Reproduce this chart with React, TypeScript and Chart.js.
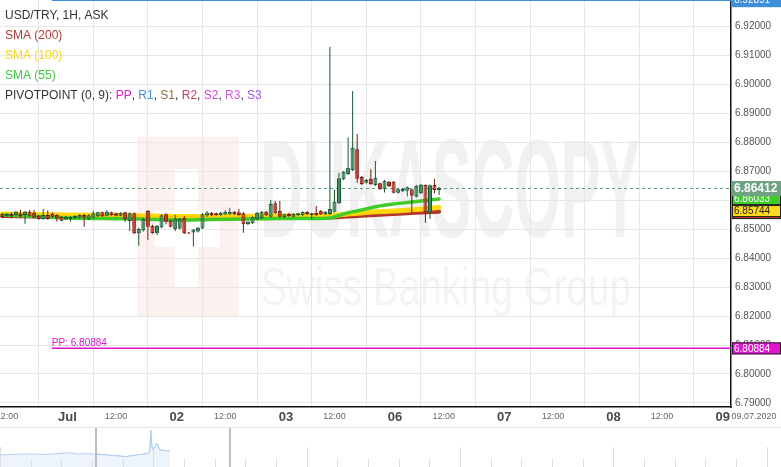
import React, { useEffect, useRef } from 'react';
import { Chart, registerables } from 'chart.js';

Chart.register(...registerables);

const FONT = 'Arial, "Liberation Sans", sans-serif';

const TITLE = 'USD/TRY, 1H, ASK';
// hours since 01 Jul 00:00, weekend collapsed
const FIRST_HOUR = -14;

const OPEN = [6.85507, 6.85438, 6.85528, 6.85483, 6.85541, 6.85483, 6.85597, 6.85562, 6.85459, 6.85345, 6.85483, 6.85528, 6.85483, 6.85424,
  6.85334, 6.85334, 6.85369, 6.8539, 6.85483, 6.85334, 6.8539, 6.85438, 6.85576, 6.85459, 6.85576, 6.85541, 6.85459, 6.85576, 6.85276,
  6.85541, 6.84852, 6.84948, 6.85621, 6.85103, 6.84852, 6.85052, 6.85507, 6.85293, 6.85, 6.85017, 6.85379, 6.84879, 6.84879, 6.84914,
  6.85017, 6.85466, 6.85552, 6.85541, 6.85483, 6.85507, 6.85507, 6.85597, 6.85576, 6.85541, 6.85162, 6.85197, 6.85334, 6.85369, 6.85597,
  6.85424, 6.85886, 6.85621, 6.85403, 6.85528, 6.85424, 6.85472, 6.85472, 6.85586, 6.85472, 6.85562, 6.85631, 6.85507, 6.85517, 6.85597,
  6.85886, 6.86714, 6.86897, 6.87034, 6.87748, 6.86793, 6.86597, 6.86724, 6.86517, 6.86576, 6.86369, 6.86631, 6.86631, 6.86252, 6.863,
  6.86321, 6.86369, 6.86114, 6.86231, 6.86517, 6.85562, 6.86517, 6.86345];
const HIGH = [6.85541, 6.85541, 6.85576, 6.85621, 6.85655, 6.85631, 6.85655, 6.85655, 6.85483, 6.8569, 6.85645, 6.85576, 6.85507, 6.85448,
  6.85448, 6.85438, 6.85472, 6.85507, 6.85517, 6.85507, 6.85621, 6.85597, 6.85597, 6.85655, 6.85597, 6.85562, 6.85576, 6.85597, 6.85576,
  6.85569, 6.85034, 6.85379, 6.85655, 6.85148, 6.85138, 6.85507, 6.85541, 6.85328, 6.85483, 6.85379, 6.85448, 6.84897, 6.85, 6.85069,
  6.85552, 6.85621, 6.85586, 6.85569, 6.85586, 6.85645, 6.85734, 6.85621, 6.85679, 6.85586, 6.85276, 6.85431, 6.85586, 6.85621, 6.85621,
  6.86, 6.85966, 6.85966, 6.85528, 6.85552, 6.85541, 6.85562, 6.8561, 6.8561, 6.85562, 6.85793, 6.85655, 6.85621, 6.91286, 6.86345,
  6.86941, 6.87, 6.88162, 6.89759, 6.88276, 6.86828, 6.86724, 6.87059, 6.87345, 6.86603, 6.8669, 6.86655, 6.86655, 6.86397, 6.86414,
  6.86466, 6.86397, 6.86517, 6.86552, 6.86534, 6.86534, 6.86724, 6.86459];
const LOW = [6.85369, 6.85414, 6.85369, 6.85459, 6.8539, 6.85183, 6.85424, 6.85369, 6.85321, 6.85321, 6.85321, 6.8539, 6.85252, 6.85266,
  6.8531, 6.85252, 6.85345, 6.85369, 6.85079, 6.8531, 6.85369, 6.85414, 6.85414, 6.85438, 6.85459, 6.85438, 6.85438, 6.85252, 6.84931,
  6.84817, 6.84424, 6.84914, 6.84621, 6.84838, 6.84793, 6.85024, 6.85162, 6.85052, 6.84931, 6.84983, 6.84828, 6.84828, 6.84397, 6.84879,
  6.85, 6.85414, 6.85448, 6.85459, 6.85459, 6.85483, 6.85483, 6.85483, 6.85459, 6.84872, 6.85138, 6.85172, 6.8531, 6.85345, 6.85448,
  6.85397, 6.85517, 6.85397, 6.85379, 6.85424, 6.85403, 6.85448, 6.85448, 6.85483, 6.85334, 6.85459, 6.85483, 6.85483, 6.85483, 6.85569,
  6.85862, 6.8669, 6.86862, 6.87, 6.86597, 6.86517, 6.86569, 6.86517, 6.86483, 6.86345, 6.86259, 6.86448, 6.86224, 6.86224, 6.86276,
  6.86121, 6.85562, 6.86086, 6.86207, 6.85217, 6.85355, 6.86231, 6.86172];
const CLOSE = [6.85414, 6.85517, 6.85448, 6.85597, 6.85448, 6.85597, 6.85459, 6.8539, 6.85345, 6.85483, 6.85345, 6.85424, 6.85369, 6.85286,
  6.85424, 6.85414, 6.85448, 6.85483, 6.8539, 6.85472, 6.85541, 6.85576, 6.85438, 6.85597, 6.85483, 6.85459, 6.85552, 6.85328, 6.85541,
  6.84852, 6.85, 6.85334, 6.85079, 6.84862, 6.85114, 6.85472, 6.85252, 6.85079, 6.85362, 6.85345, 6.84852, 6.84845, 6.84983, 6.85041,
  6.85507, 6.85569, 6.85466, 6.85483, 6.85562, 6.85597, 6.85597, 6.85507, 6.85483, 6.85162, 6.85252, 6.85403, 6.85562, 6.85597, 6.85472,
  6.85862, 6.85541, 6.85424, 6.85507, 6.85448, 6.85517, 6.85541, 6.85586, 6.85507, 6.85541, 6.85483, 6.85507, 6.85597, 6.8569, 6.85941,
  6.86748, 6.86976, 6.87114, 6.87803, 6.86734, 6.86552, 6.8669, 6.86552, 6.86769, 6.86369, 6.86666, 6.86483, 6.86252, 6.86369, 6.86379,
  6.86438, 6.86148, 6.86493, 6.86528, 6.85576, 6.86507, 6.86345, 6.86412];

const SMA200_H = [-14, 0, 12, 24, 36, 48, 58, 64, 72, 82];
const SMA200_V = [6.85448, 6.85414, 6.85397, 6.85379, 6.85379, 6.85379, 6.85397, 6.85448, 6.85517, 6.85597];
const SMA100_H = [-14, -6, 0, 12, 24, 36, 48, 58, 62, 66, 72, 78, 82];
const SMA100_V = [6.85517, 6.855, 6.85483, 6.85466, 6.85431, 6.85431, 6.85448, 6.85466, 6.85517, 6.85569, 6.85621, 6.85679, 6.85744];
const SMA55_H = [-14, -6, 0, 8, 16, 24, 32, 40, 48, 56, 58, 60, 62, 65, 68, 72, 76, 79, 82];
const SMA55_V = [6.85483, 6.85431, 6.85379, 6.85362, 6.85345, 6.8531, 6.85328, 6.85345, 6.85362, 6.85362, 6.85379, 6.85466, 6.85562,
  6.85655, 6.85769, 6.85862, 6.85931, 6.85983, 6.86033];

const X_MIN = -14.5;
const X_MAX = 146.15;
const Y_MIN = 6.78862;
const Y_MAX = 6.92897;
const Y_STEP = 0.01;

const DAY_TICKS = [0, 24, 48, 72, 96, 120, 144];
const DAY_LABELS = ['Jul', '02', '03', '06', '07', '08', '09'];
const HALF_TICKS = [-12, 12, 36, 60, 84, 108, 132];
const HALF_LABEL = '12:00';
const DATE_LABEL = '09.07.2020';

const PIVOT_NAMES = ['PP', 'R1'];
const PIVOT_VALUES = [6.80884, 6.92891];
const PIVOT_COLORS = ['#e314cf', '#3d8fda'];
const PIVOT_START = -3.1;
const LAST_PRICE = 6.86412;

const LEGEND_SMA = [
  ['SMA (200)', '#b23c36'],
  ['SMA (100)', '#f9d51a'],
  ['SMA (55)', '#3ec93e'],
];
const PIVOT_TITLE = 'PIVOTPOINT (0, 9): ';
const PIVOT_LEGEND = [
  ['PP', '#e31ccb'],
  ['R1', '#3d8fda'],
  ['S1', '#8c6c3c'],
  ['R2', '#c63d5e'],
  ['S2', '#d33fd3'],
  ['R3', '#d45ae0'],
  ['S3', '#a750ee'],
];

// navigator (overview) series
const NAV_HOURS = [-139, -120, -100, -80, -60, -50, -40, -25, -14.5, 0, 10, 25, 35, 45, 52, 55.5, 56.5, 58, 59.9, 64.3, 68.6, 75, 81.6];
const NAV_VALUES = [6.85, 6.8517, 6.8525, 6.8517, 6.8542, 6.8558, 6.8525, 6.8533, 6.8525, 6.85, 6.8483, 6.8458, 6.8492, 6.8517, 6.8542,
  6.858, 6.9125, 6.87, 6.8625, 6.879, 6.8625, 6.861, 6.86];
const NAV_X_MIN = -139.2;
const NAV_X_MAX = 875.1;
const NAV_Y_MIN = 6.82;
const NAV_Y_MAX = 6.92;
const NAV_WINDOW = [-14.5, 159.5];
const NAV_TICK_ORIGIN = 59.9;
const NAV_TICK_STEP = 39.83;

const GREEN_FILL = '#3f8f63';
const GREEN_LINE = '#1c5634';
const RED_FILL = '#c8382b';
const RED_LINE = '#761b12';

const mainDecor = {
  id: 'mainDecor',
  beforeDraw(chart: any) {
    const { ctx } = chart;
    ctx.save();
    ctx.fillStyle = '#ffffff';
    ctx.fillRect(0, 0, chart.width, chart.height);
    // logo watermark
    ctx.fillStyle = 'rgba(232,80,70,0.08)';
    ctx.fillRect(137, 137, 102, 180);
    ctx.fillStyle = '#ffffff';
    ctx.fillRect(175, 169, 23, 118);
    ctx.fillRect(155, 210, 65, 37);
    // text watermark
    ctx.fillStyle = '#f1f1f1';
    ctx.font = `bold 140px ${FONT}`;
    ctx.textBaseline = 'alphabetic';
    ctx.textAlign = 'left';
    let w = ctx.measureText('DUKASCOPY').width;
    ctx.save();
    ctx.translate(260, 237);
    ctx.scale(380 / w, 1);
    ctx.fillText('DUKASCOPY', 0, 0);
    ctx.restore();
    ctx.fillStyle = '#f4f4f4';
    ctx.font = `53px ${FONT}`;
    w = ctx.measureText('Swiss Banking Group').width;
    ctx.save();
    ctx.translate(261, 305);
    ctx.scale(370 / w, 1);
    ctx.fillText('Swiss Banking Group', 0, 0);
    ctx.restore();
    ctx.restore();
  },
  beforeDatasetsDraw(chart: any) {
    const { ctx, chartArea: a, scales } = chart;
    const y = Math.round(scales.y.getPixelForValue(LAST_PRICE)) + 0.5;
    ctx.save();
    ctx.strokeStyle = '#5f9a7d';
    ctx.lineWidth = 1;
    ctx.setLineDash([3, 3]);
    ctx.beginPath();
    ctx.moveTo(a.left, y);
    ctx.lineTo(a.right, y);
    ctx.stroke();
    ctx.restore();
  },
  afterDraw(chart: any) {
    const { ctx, chartArea: a, scales } = chart;
    const ys = scales.y;
    const xs = scales.x;
    ctx.save();
    // pivot label
    ctx.font = `10px ${FONT}`;
    ctx.textBaseline = 'alphabetic';
    ctx.textAlign = 'left';
    ctx.fillStyle = PIVOT_COLORS[0];
    ctx.fillText(`${PIVOT_NAMES[0]}: ${PIVOT_VALUES[0].toFixed(5)}`, xs.getPixelForValue(PIVOT_START), ys.getPixelForValue(PIVOT_VALUES[0]) - 2);

    // x-axis labels
    const ly0 = a.bottom + 10;
    ctx.textAlign = 'center';
    ctx.textBaseline = 'middle';
    ctx.fillStyle = '#666';
    ctx.font = `9px ${FONT}`;
    HALF_TICKS.forEach((h) => ctx.fillText(HALF_LABEL, xs.getPixelForValue(h) - 4.5, ly0));
    ctx.fillStyle = '#4a4a4a';
    ctx.font = `bold 13px ${FONT}`;
    DAY_TICKS.forEach((h, i) => ctx.fillText(DAY_LABELS[i], xs.getPixelForValue(h) + 1.5, ly0 + 0.5));
    ctx.fillStyle = '#666';
    ctx.font = `9px ${FONT}`;
    ctx.fillText(DATE_LABEL, 754, ly0);

    // right-hand value labels
    const box = (cy: number, h: number, bg: string, fg: string, text: string, bold: boolean, border?: string) => {
      const top = cy - h / 2;
      ctx.fillStyle = bg;
      ctx.fillRect(a.right + 1, top, chart.width - a.right - 1, h);
      if (border) {
        ctx.strokeStyle = border;
        ctx.lineWidth = 1;
        ctx.strokeRect(a.right + 1.5, top + 0.5, chart.width - a.right - 2, h - 1);
      }
      ctx.fillStyle = fg;
      ctx.font = `${bold ? 'bold 12px' : '10px'} ${FONT}`;
      ctx.textBaseline = 'middle';
      ctx.textAlign = 'left';
      ctx.fillText(text, a.right + 3, cy + 0.5);
    };
    const pPrice = ys.getPixelForValue(LAST_PRICE);
    box(pPrice + 25, 12, '#b02a20', '#ffffff', SMA200_V[SMA200_V.length - 1].toFixed(5), false, '#222');
    box(ys.getPixelForValue(SMA55_V[SMA55_V.length - 1]), 12, '#3fcb2c', '#ffffff', SMA55_V[SMA55_V.length - 1].toFixed(5), false, '#222');
    box(pPrice + 23, 12, '#ffd91a', '#222', SMA100_V[SMA100_V.length - 1].toFixed(5), false, '#222');
    box(pPrice + 0.5, 15, '#6fa285', '#ffffff', LAST_PRICE.toFixed(5), true);
    box(ys.getPixelForValue(PIVOT_VALUES[0]), 12, '#e314cf', '#ffffff', PIVOT_VALUES[0].toFixed(5), false, '#222');
    box(ys.getPixelForValue(PIVOT_VALUES[1]), 14, '#3d8fda', '#ffffff', PIVOT_VALUES[1].toFixed(5), false);

    // legend
    ctx.font = `12px ${FONT}`;
    ctx.textAlign = 'left';
    ctx.textBaseline = 'middle';
    ctx.fillStyle = '#333';
    ctx.fillText(TITLE, 5, 16);
    LEGEND_SMA.forEach(([t, c], i) => {
      ctx.fillStyle = c;
      ctx.fillText(t, 5, 36 + 20 * i);
    });
    let x = 5;
    const ly = 96;
    ctx.fillStyle = '#333';
    ctx.fillText(PIVOT_TITLE, x, ly);
    x += ctx.measureText(PIVOT_TITLE).width;
    PIVOT_LEGEND.forEach(([n, c], i) => {
      ctx.fillStyle = c;
      ctx.fillText(n, x, ly);
      x += ctx.measureText(n).width;
      if (i < PIVOT_LEGEND.length - 1) {
        ctx.fillStyle = '#333';
        ctx.fillText(', ', x, ly);
        x += ctx.measureText(', ').width;
      }
    });
    ctx.restore();
  },
};

const navDecor = {
  id: 'navDecor',
  beforeDraw(chart: any) {
    const { ctx } = chart;
    ctx.save();
    ctx.fillStyle = '#ffffff';
    ctx.fillRect(0, 0, chart.width, chart.height);
    ctx.restore();
  },
  afterDraw(chart: any) {
    const { ctx, scales } = chart;
    const xs = scales.x;
    const H = chart.height;
    ctx.save();
    ctx.strokeStyle = '#e2e2e2';
    ctx.lineWidth = 1;
    ctx.beginPath();
    ctx.moveTo(0, 0.5);
    ctx.lineTo(chart.width, 0.5);
    ctx.stroke();
    for (let k = -5; k <= 25; k++) {
      const px = Math.round(xs.getPixelForValue(NAV_TICK_ORIGIN + k * NAV_TICK_STEP)) + 0.5;
      if (px < 0 || px > chart.width) continue;
      const tall = k % 5 === 0;
      ctx.strokeStyle = '#dedede';
      ctx.beginPath();
      ctx.moveTo(px, tall ? H - 20 : H - 8);
      ctx.lineTo(px, H);
      ctx.stroke();
    }
    ctx.strokeStyle = '#a8a8a8';
    ctx.lineWidth = 1.5;
    NAV_WINDOW.forEach((h) => {
      const px = Math.round(xs.getPixelForValue(h));
      ctx.beginPath();
      ctx.moveTo(px, 1);
      ctx.lineTo(px, H);
      ctx.stroke();
    });
    ctx.restore();
  },
};

export default function App() {
  const mainRef = useRef<HTMLCanvasElement>(null);
  const navRef = useRef<HTMLCanvasElement>(null);

  useEffect(() => {
    document.body.style.margin = '0';
    const hours = OPEN.map((_, i) => FIRST_HOUR + i);
    const up = OPEN.map((o, i) => CLOSE[i] >= o);
    const bodies = hours.map((h, i) => ({ x: h, y: [OPEN[i], CLOSE[i]] }));
    const wicks = hours.map((h, i) => ({ x: h, y: [LOW[i], HIGH[i]] }));
    const line = (hs: number[], vs: number[]) => hs.map((h, i) => ({ x: h, y: vs[i] }));
    const pivotLines = PIVOT_VALUES.map((v, i) => ({
      type: 'line',
      data: [{ x: PIVOT_START, y: v }, { x: X_MAX + 1, y: v }],
      borderColor: PIVOT_COLORS[i],
      borderWidth: 1.5,
      pointRadius: 0,
      order: 20,
    }));
    const tickVals = [...HALF_TICKS, ...DAY_TICKS].sort((a, b) => a - b);

    const main = new Chart(mainRef.current as HTMLCanvasElement, {
      type: 'bar',
      data: {
        datasets: [
          ...pivotLines,
          {
            type: 'line', data: line(SMA200_H, SMA200_V), borderColor: '#b3352b', borderWidth: 4,
            pointRadius: 0, tension: 0.3, order: 13, borderCapStyle: 'round', borderJoinStyle: 'round',
          },
          {
            type: 'line', data: line(SMA100_H, SMA100_V), borderColor: 'rgba(255,214,0,0.95)', borderWidth: 5,
            pointRadius: 0, tension: 0.3, order: 12, borderCapStyle: 'round', borderJoinStyle: 'round',
          },
          {
            type: 'line', data: line(SMA55_H, SMA55_V), borderColor: '#3fcc2a', borderWidth: 3.5,
            pointRadius: 0, tension: 0.3, order: 11, borderCapStyle: 'round', borderJoinStyle: 'round',
          },
          {
            type: 'bar', data: wicks, backgroundColor: up.map((u) => (u ? GREEN_LINE : RED_LINE)),
            barThickness: 1, grouped: false, order: 2, inflateAmount: 0, borderWidth: 0,
          },
          {
            type: 'bar', data: bodies, backgroundColor: up.map((u) => (u ? GREEN_FILL : RED_FILL)),
            borderColor: up.map((u) => (u ? GREEN_LINE : RED_LINE)), borderWidth: 1, borderSkipped: false,
            barThickness: 4, grouped: false, order: 1, inflateAmount: 0, minBarLength: 1,
          },
        ] as any,
      },
      options: {
        responsive: false,
        animation: false,
        events: [],
        layout: { padding: 0 },
        plugins: { legend: { display: false }, tooltip: { enabled: false } },
        scales: {
          x: {
            type: 'linear',
            min: X_MIN,
            max: X_MAX,
            offset: false,
            grid: { color: '#e6e6e6', lineWidth: 1, drawTicks: false },
            border: { display: true, color: '#111', width: 1.5 },
            ticks: { display: false, autoSkip: false },
            afterBuildTicks: (s: any) => {
              s.ticks = tickVals.map((v) => ({ value: v }));
            },
            afterFit: (s: any) => {
              s.height = 20;
              s.paddingLeft = 0;
              s.paddingRight = 0;
            },
          },
          y: {
            type: 'linear',
            position: 'right',
            min: Y_MIN,
            max: Y_MAX,
            grid: { color: '#e6e6e6', lineWidth: 1, drawTicks: false },
            border: { display: true, color: '#111', width: 1.5 },
            ticks: {
              stepSize: Y_STEP,
              includeBounds: false,
              padding: 4,
              color: '#555',
              font: { family: FONT, size: 10 },
              callback: (v: any) => Number(v).toFixed(5),
            },
            afterFit: (s: any) => {
              s.width = 50;
              s.paddingTop = 0;
              s.paddingBottom = 0;
            },
          },
        },
      } as any,
      plugins: [mainDecor],
    });

    const navAll = NAV_HOURS.map((h, i) => ({ x: h, y: NAV_VALUES[i] }));
    const navWin = navAll.filter((p) => p.x >= NAV_WINDOW[0] && p.x <= NAV_WINDOW[1]);
    const nav = new Chart(navRef.current as HTMLCanvasElement, {
      type: 'line',
      data: {
        datasets: [
          { data: navAll, borderColor: '#b3cff3', borderWidth: 1, backgroundColor: '#eef4fc', fill: 'start', pointRadius: 0, tension: 0 },
          { data: navWin, borderColor: '#9cbdee', borderWidth: 1, backgroundColor: '#dbe7f8', fill: 'start', pointRadius: 0, tension: 0 },
        ],
      },
      options: {
        responsive: false,
        animation: false,
        events: [],
        layout: { padding: 0 },
        plugins: { legend: { display: false }, tooltip: { enabled: false } },
        scales: {
          x: { type: 'linear', display: false, min: NAV_X_MIN, max: NAV_X_MAX },
          y: { type: 'linear', display: false, min: NAV_Y_MIN, max: NAV_Y_MAX },
        },
      } as any,
      plugins: [navDecor],
    });

    return () => {
      main.destroy();
      nav.destroy();
    };
  }, []);

  return (
    <div style={{ width: 781, height: 467, background: '#fff', overflow: 'hidden' }}>
      <canvas ref={mainRef} width={781} height={427} style={{ display: 'block' }} />
      <canvas ref={navRef} width={781} height={40} style={{ display: 'block' }} />
    </div>
  );
}
